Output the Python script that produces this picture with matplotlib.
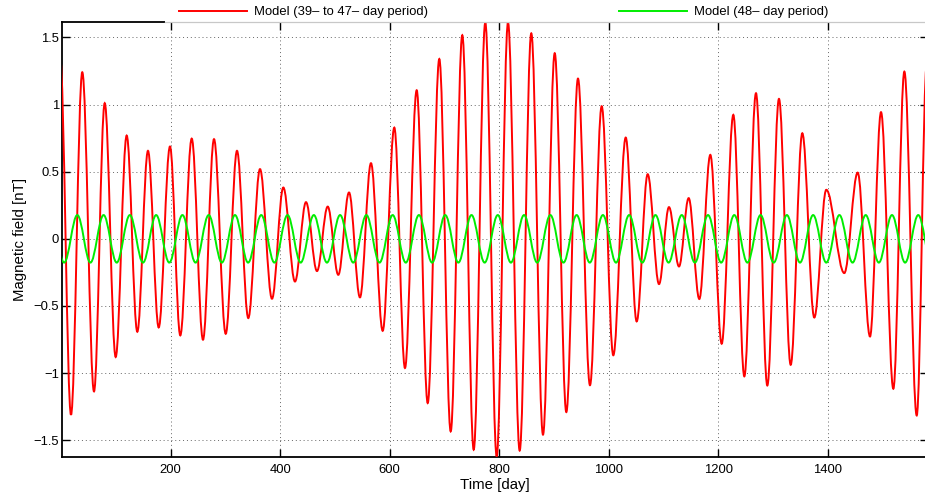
import matplotlib
matplotlib.use("Agg")
import matplotlib.pyplot as plt
from matplotlib.path import Path
from matplotlib.patches import PathPatch, Rectangle
from matplotlib.lines import Line2D

plt.rcParams['font.family'] = ['Liberation Sans', 'DejaVu Sans']

# ---------------- data ----------------
# Red model: successive extrema (day, value). First/last points lie just outside the view.
red_days = [-2.0, 17.9, 38.5, 59.9, 79.5, 99.5, 119.6, 139.0, 158.5, 178.1,
            198.7, 217.5, 238.4, 259.0, 279.1, 300.5, 321.1, 341.7, 363.1, 385.0,
            405.7, 427.0, 447.1, 467.2, 486.8, 506.1, 525.7, 545.7, 565.8, 587.2,
            608.4, 627.9, 649.3, 669.4, 690.6, 711.4, 732.6, 753.4, 774.6, 795.4,
            816.1, 837.4, 858.6, 880.0, 901.4, 922.6, 943.9, 965.8, 987.2, 1008.4,
            1031.1, 1051.1, 1071.2, 1091.9, 1110.1, 1128.4, 1146.1, 1165.5, 1185.6, 1206.4,
            1227.6, 1247.7, 1269.0, 1289.7, 1311.0, 1332.4, 1353.6, 1375.5, 1397.4, 1430.3,
            1454.8, 1477.3, 1497.4, 1519.9, 1540.0, 1562.6, 1581.0]
red_vals = [1.35, -1.31, 1.24, -1.136, 1.01, -0.88, 0.769, -0.692, 0.655, -0.66,
            0.687, -0.719, 0.746, -0.751, 0.742, -0.707, 0.655, -0.59, 0.519, -0.446,
            0.382, -0.318, 0.273, -0.24, 0.24, -0.268, 0.345, -0.436, 0.563, -0.685,
            0.828, -0.962, 1.106, -1.223, 1.339, -1.434, 1.516, -1.57, 1.61, -1.62,
            1.61, -1.577, 1.53, -1.458, 1.382, -1.29, 1.193, -1.09, 0.987, -0.867,
            0.754, -0.615, 0.481, -0.337, 0.236, -0.206, 0.303, -0.448, 0.625, -0.781,
            0.923, -1.024, 1.084, -1.092, 1.042, -0.938, 0.786, -0.586, 0.365, -0.255,
            0.493, -0.727, 0.943, -1.116, 1.245, -1.315, 1.30]

# Green model (48-day period): peak and trough days, and their values
green_peak_days = [-18.6, 29.4, 77.4, 125.4, 173.4, 221.4, 269.4, 317.4, 365.4, 413.4,
                   461.4, 509.4, 557.4, 605.4, 653.4, 701.4, 749.4, 797.4, 845.4, 893.4,
                   941.4, 989.4, 1037.4, 1085.4, 1133.4, 1181.4, 1229.4, 1277.4, 1325.4, 1373.4,
                   1421.4, 1469.4, 1517.4, 1565.4]
green_trough_days = [5.4, 53.4, 101.4, 149.4, 197.4, 245.4, 293.4, 341.4, 389.4, 437.4,
                     485.4, 533.4, 581.4, 629.4, 677.4, 725.4, 773.4, 821.4, 869.4, 917.4,
                     965.4, 1013.4, 1061.4, 1109.4, 1157.4, 1205.4, 1253.4, 1301.4, 1349.4, 1397.4,
                     1445.4, 1493.4, 1541.4, 1589.4]
green_peak_value = 0.177
green_trough_value = -0.177

labels = ["Model (39\u2013 to 47\u2013 day period)", "Model (48\u2013 day period)"]
x_ticks = [200, 400, 600, 800, 1000, 1200, 1400]
y_ticks = [-1.5, -1, -0.5, 0, 0.5, 1, 1.5]
y_tick_labels = ["\u22121.5", "\u22121", "\u22120.5", "0", "0.5", "1", "1.5"]
x_label = "Time [day]"
y_label = "Magnetic field [nT]"


def smooth_path(days, vals, k=0.363):
    """Smooth line through successive extrema (horizontal tangents at each extremum)."""
    verts = [(days[0], vals[0])]
    codes = [Path.MOVETO]
    for i in range(len(days) - 1):
        t0, v0, t1, v1 = days[i], vals[i], days[i + 1], vals[i + 1]
        dt = t1 - t0
        verts += [(t0 + k * dt, v0), (t1 - k * dt, v1), (t1, v1)]
        codes += [Path.CURVE4] * 3
    return Path(verts, codes)


W, H = 925, 497
fig = plt.figure(figsize=(W / 100, H / 100), dpi=100)
ax = fig.add_axes([62 / W, 1 - 456.7 / H, (928 - 62) / W, (456.7 - 22.3) / H])

red_color = (1, 0, 0)
green_color = (0, 0.93, 0)

ax.add_patch(PathPatch(smooth_path(red_days, red_vals), facecolor='none',
                       edgecolor=red_color, lw=1.4, zorder=3))

g = sorted([(d, green_peak_value) for d in green_peak_days] +
           [(d, green_trough_value) for d in green_trough_days])
ax.add_patch(PathPatch(smooth_path([p[0] for p in g], [p[1] for p in g]), facecolor='none',
                       edgecolor=green_color, lw=1.4, zorder=4))

ax.set_xlim(1.46, 1583.2)
ax.set_ylim(-1.622, 1.612)
ax.set_xticks(x_ticks)
ax.set_xticklabels([str(t) for t in x_ticks])
ax.set_yticks(y_ticks)
ax.set_yticklabels(y_tick_labels)

ax.tick_params(direction='in', length=5.8, width=1.0, top=True, right=True,
               labelsize=9.4, colors='black')
ax.tick_params(axis='x', pad=5)
ax.tick_params(axis='y', pad=2)
for s in ax.spines.values():
    s.set_linewidth(1.3)
    s.set_color('black')

ax.grid(True, color='#666666', linestyle=(0, (1, 3)), linewidth=0.7)
ax.set_axisbelow(True)

ax.set_xlabel(x_label, fontsize=10.8, labelpad=2)
ax.set_ylabel(y_label, fontsize=10.8, labelpad=5)

# legend area above the axes: white band with a light grey bottom border
y_leg = 1 - 22.3 / H
fig.patches.append(Rectangle((165 / W, y_leg), 1.0, 0.2, transform=fig.transFigure,
                             facecolor='white', edgecolor='none', zorder=5))
fig.lines.append(Line2D([165 / W, 1.0], [y_leg, y_leg], transform=fig.transFigure,
                        color='#c8c8c8', lw=0.9, zorder=5.5))
handles = [Line2D([], [], color=red_color, lw=1.4), Line2D([], [], color=green_color, lw=1.4)]
leg = fig.legend(handles, labels, loc='center left', bbox_to_anchor=(179 / W, 1 - 12 / H),
                 frameon=False, ncol=2, fontsize=9.4, borderpad=0, borderaxespad=0,
                 handlelength=5.23, handletextpad=0.54, columnspacing=14.6)
leg.set_zorder(6)

fig.savefig("out.png", dpi=100)
